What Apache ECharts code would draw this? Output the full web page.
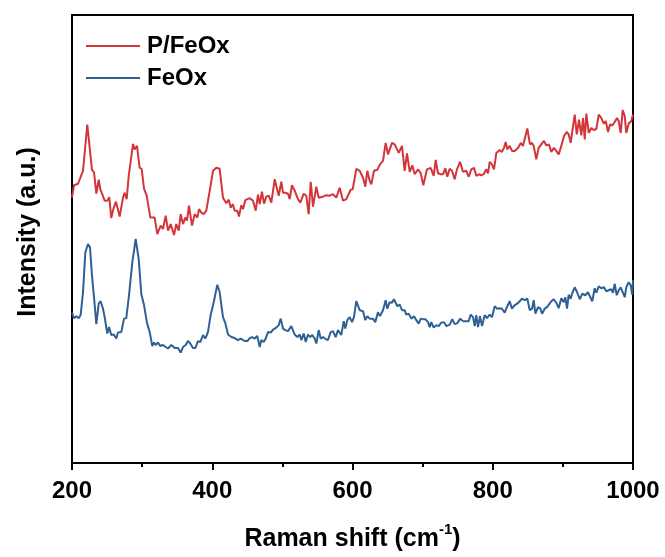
<!DOCTYPE html>
<html>
<head>
<meta charset="utf-8">
<title>Raman spectra</title>
<script src="https://cdn.jsdelivr.net/npm/echarts@6/dist/echarts.min.js"></script>
<style>
  html, body { margin: 0; padding: 0; background: #fff; }
  #chart { width: 665px; height: 557px; }
</style>
</head>
<body>
<div id="chart"></div>
<script>
// Raman shift (cm-1) and intensity (a.u.) for P/FeOx
const pFeOxShift = [200,202.9,208.6,215.7,221.8,228.5,231.4,234.7,238.1,240.4,243.2,246.6,250.3,253.2,256.0,258.9,262.7,268.0,272.7,275.2,278.0,280.9,287.0,289.4,292.7,296.5,299.4,302.7,306.5,311.7,317.9,321.6,326.5,329.8,333.6,336.9,340.7,345.5,348.7,352.2,355.0,358.3,361.6,364.0,366.8,371.1,375.0,378.7,381.1,384.4,387.8,391.5,396.4,401.1,405.8,410.6,415.3,420.0,423.5,426.3,429.2,432.0,435.7,438.1,441.4,443.9,447.1,453.4,458.1,462.0,465.2,467.7,470.9,473.8,477.1,480.5,484.2,489.1,491.3,494.8,498.5,500.9,504.2,508.0,510.5,513.7,517.6,522.3,525.6,530.4,534.1,537.5,540.4,543.7,548.4,551.8,557.9,562.6,567.5,572.2,576.9,581.7,586.5,591.2,597.4,600.3,605.4,610.3,615.0,618.3,621.1,624.5,626.8,630.7,635.4,639.6,643.5,647.3,650.6,653.0,656.3,660.2,663.0,665.9,670.6,674.4,677.7,681.6,685.3,688.7,693.4,697.3,701.0,706.2,711.5,715.8,718.6,721.9,725.8,729.1,732.3,735.2,738.6,741.9,745.7,749.0,753.3,757.6,762.3,765.7,769.4,773.3,776.5,780.4,783.7,787.5,790.8,793.2,795.6,798.9,801.8,805.1,809.9,813.2,816.0,818.5,820.7,824.2,827.4,831.3,836.0,839.9,843.1,845.6,849.3,853.1,856.0,858.4,862.1,865.5,869.2,873.1,876.4,880.2,883.5,887.3,890.6,894.0,897.8,901.6,905.5,908.3,911.2,913.5,916.9,919.8,923.0,926.3,928.7,931.2,933.4,936.9,940.6,944.0,947.7,951.1,954.8,958.3,961.1,964.4,967.2,970.5,973.9,977.2,979.6,982.5,985.3,988.2,990.4,993.9,997.6,1000];
const pFeOxIntensity = [533,558,561,587,680,589,584,541,569,550,550,527,527,534,492,510,525,495,533,543,530,577,641,630,637,593,591,551,537,493,493,460,477,470,497,467,480,458,480,467,500,480,493,487,517,477,500,493,510,503,500,507,547,587,593,591,533,522,529,513,520,507,507,495,518,510,528,532,527,507,539,520,545,521,535,537,523,570,557,537,565,543,543,541,530,558,547,530,523,541,537,500,565,515,555,533,535,538,537,540,533,553,527,530,549,550,591,587,573,555,587,567,560,587,589,601,607,643,620,617,643,640,643,623,637,587,622,585,598,580,590,582,558,590,593,577,609,582,580,580,592,575,591,587,570,590,605,585,587,575,590,593,577,580,578,581,590,582,605,600,590,623,629,625,633,645,630,637,627,627,633,643,637,633,672,640,643,637,610,633,640,647,638,640,625,633,627,620,637,657,665,660,643,667,700,660,690,658,693,650,702,663,673,669,671,700,693,682,687,665,680,678,685,693,687,663,709,697,663,682,687,700];

// Raman shift (cm-1) and intensity (a.u.) for FeOx
const feOxShift = [200,202.9,206.1,209.6,212.4,215.7,219.0,222.8,225.7,228.5,232.4,234.7,238.1,240.9,244.2,246.6,250.3,252.8,256.0,259.5,263.2,265.6,270.3,274.2,277.4,281.3,286.0,290.8,295.1,298.8,302.7,307.0,310.8,314.5,316.9,319.4,322.6,325.9,329.8,333.6,336.9,341.6,346.5,351.2,355.0,358.3,362.1,365.4,368.7,372.5,375.8,379.7,382.9,386.8,390.1,393.9,397.8,402.1,407.2,410.6,415.3,418.6,422.5,427.2,432.0,436.7,440.6,443.9,447.1,450.0,453.4,456.7,460.5,464.2,467.7,470.0,473.4,476.2,479.5,483.4,486.7,491.3,494.8,497.6,500.9,504.2,508.0,512.7,517.6,521.3,524.7,527.0,530.4,533.3,536.5,539.8,542.7,546.1,548.4,551.8,554.6,557.9,561.8,565.0,568.9,572.2,576.0,579.3,581.7,584.0,587.5,589.7,592.6,596.0,599.3,602.1,605.4,610.3,615.0,618.3,621.1,624.5,629.2,632.5,636.3,639.2,643.5,647.3,649.6,653.0,656.3,659.1,663.9,667.3,670.6,674.4,676.7,680.2,683.9,687.7,691.0,694.4,697.3,700.5,703.8,707.7,710.1,712.4,715.8,719.5,722.9,726.6,730.5,733.7,738.6,742.3,745.7,749.5,753.7,757.6,762.3,765.7,768.6,771.9,774.3,776.5,779.0,781.8,784.7,788.5,791.8,795.6,798.9,802.8,806.0,809.9,813.2,817.0,820.7,824.2,827.4,831.3,835.0,838.4,841.7,845.6,849.3,852.8,856.0,858.4,860.8,864.6,867.9,870.3,874.1,877.4,880.2,883.5,887.0,890.6,894.0,897.8,901.2,903.5,905.9,908.3,911.2,913.0,916.9,920.6,924.0,927.7,932.0,935.8,938.2,941.9,945.4,947.7,951.1,954.8,958.7,961.9,965.4,969.1,971.5,973.9,976.8,979.6,982.5,985.7,988.2,990.4,993.9,996.7,999.0,1000];
const feOxIntensity = [302,291,295,291,298,343,423,440,433,377,317,279,320,325,310,293,260,273,257,258,250,262,263,290,291,337,403,450,410,340,317,281,263,235,242,237,242,235,237,233,230,237,231,231,222,233,237,245,240,231,231,245,243,257,250,263,298,323,358,343,293,281,258,253,251,247,250,247,245,245,251,253,250,255,233,247,243,250,263,262,268,272,277,290,270,267,265,275,258,253,258,247,260,243,258,253,257,250,240,267,250,253,249,247,263,265,253,267,270,257,285,270,287,293,283,293,325,307,305,287,295,290,290,283,303,295,307,327,310,323,322,329,315,318,307,307,298,300,290,295,287,280,290,289,289,283,273,283,272,277,275,282,283,275,278,289,279,281,290,285,285,285,298,293,275,297,273,295,275,297,291,298,293,315,310,311,310,302,315,325,310,317,320,325,330,327,330,307,310,327,300,313,310,300,310,313,309,325,329,322,311,331,323,333,310,338,330,340,353,342,329,340,337,343,347,325,351,342,355,351,353,345,347,349,342,360,337,347,353,342,333,353,363,357,338,367];

const xTicks = [200, 400, 600, 800, 1000];
const seriesNames = ['P/FeOx', 'FeOx'];

const zip = (xs, ys) => xs.map((x, i) => [x, ys[i]]);

const chart = echarts.init(document.getElementById('chart'), null, { renderer: 'canvas' });
const font = 'Arial, "Liberation Sans", Helvetica, sans-serif';

chart.setOption({
  animation: false,
  backgroundColor: '#fff',
  grid: {
    left: 72, right: 32, top: 15, bottom: 92,
    show: true, borderColor: '#000', borderWidth: 2, backgroundColor: 'transparent'
  },
  legend: {
    orient: 'vertical',
    left: 86, top: 34,
    padding: 0,
    itemGap: 8,
    itemWidth: 54, itemHeight: 2,
    icon: 'rect',
    data: seriesNames,
    textStyle: { fontFamily: font, fontWeight: 'bold', fontSize: 24, color: '#000', padding: [0, 0, 0, 2] }
  },
  xAxis: {
    type: 'value',
    min: 200, max: 1000, interval: 200,
    axisLine: { show: true, onZero: false, lineStyle: { color: '#000', width: 2 } },
    axisTick: { show: true, inside: false, length: 7, lineStyle: { color: '#000', width: 2 } },
    minorTick: { show: true, splitNumber: 2, length: 4, lineStyle: { color: '#000', width: 2 } },
    splitLine: { show: false },
    axisLabel: {
      margin: 16,
      fontFamily: font, fontWeight: 'bold', fontSize: 24, color: '#000',
      customValues: xTicks,
      formatter: v => String(v)
    },
    name: '{t|Raman shift (cm}{s|-1}{t|)}',
    nameLocation: 'middle',
    nameGap: 59,
    nameTextStyle: {
      rich: {
        t: { fontFamily: font, fontWeight: 'bold', fontSize: 25, lineHeight: 30, padding: [5, 0, 0, 0], color: '#000' },
        s: { fontFamily: font, fontWeight: 'bold', fontSize: 15, lineHeight: 5, verticalAlign: 'top', color: '#000' }
      }
    }
  },
  yAxis: {
    type: 'value',
    min: 0, max: 900,
    axisLine: { show: true, lineStyle: { color: '#000', width: 2 } },
    axisTick: { show: false },
    axisLabel: { show: false },
    splitLine: { show: false },
    name: 'Intensity (a.u.)',
    nameLocation: 'middle',
    nameGap: 31,
    nameTextStyle: { fontFamily: font, fontWeight: 'bold', fontSize: 25, color: '#000', padding: [0, 0, 0, 14] }
  },
  series: [
    {
      name: seriesNames[0], type: 'line', data: zip(pFeOxShift, pFeOxIntensity),
      showSymbol: false, symbol: 'none', smooth: false,
      lineStyle: { color: '#d2363b', width: 2 }, itemStyle: { color: '#d2363b' }
    },
    {
      name: seriesNames[1], type: 'line', data: zip(feOxShift, feOxIntensity),
      showSymbol: false, symbol: 'none', smooth: false,
      lineStyle: { color: '#2f6095', width: 2 }, itemStyle: { color: '#2f6095' }
    }
  ]
});
</script>
</body>
</html>
